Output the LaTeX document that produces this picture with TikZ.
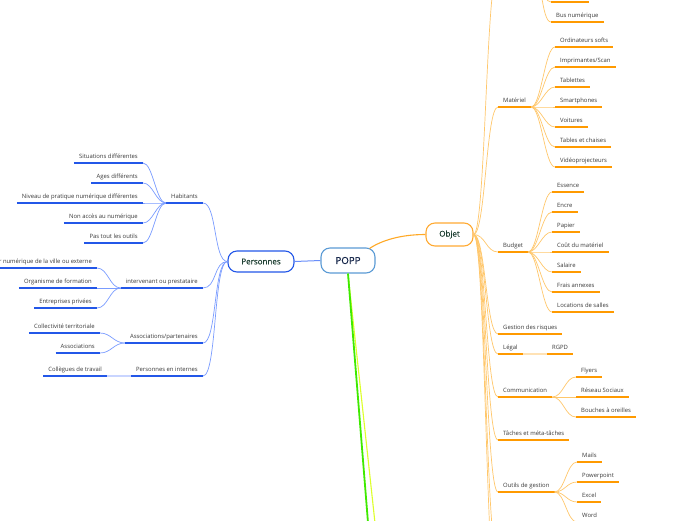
\documentclass[tikz,border=0pt]{standalone}
\usepackage{fontspec}
\setmainfont{Open Sans}
\newfontfamily\nodefont[FakeBold=0.6]{Open Sans}
\definecolor{bStrong}{HTML}{2357E8}
\definecolor{bLight}{HTML}{7A9CFF}
\definecolor{bPale}{HTML}{C9D5FF}
\definecolor{oStrong}{HTML}{FF9A00}
\definecolor{oLight}{HTML}{FFC76B}
\definecolor{oPale}{HTML}{FFE2B5}
\definecolor{oBorder}{HTML}{FFAA33}
\definecolor{txt}{HTML}{3A3A3A}
\definecolor{nodetxt}{HTML}{1F4033}
\definecolor{poppB}{HTML}{5B9BD5}
\definecolor{poppT}{HTML}{0E1F44}
\definecolor{gLine}{HTML}{3FEA00}
\definecolor{yLine}{HTML}{DDFF2A}
\tikzset{
 ulB/.style={draw=bStrong, line width=1.8pt},
 ulO/.style={draw=oStrong, line width=1.8pt},
 lbl/.style={font=\fontsize{5.9}{7}\selectfont, text=txt, inner xsep=5pt, inner ysep=0pt, text height=5pt, text depth=4.5pt},
 leafL/.style={lbl, anchor=south east, append after command={(\tikzlastnode.south west) edge[ulB] (\tikzlastnode.south east)}},
 leafR/.style={lbl, anchor=south west, append after command={(\tikzlastnode.south west) edge[ulO] (\tikzlastnode.south east)}},
 cB/.style={draw=bLight, line width=0.7pt},
 cO/.style={draw=oLight, line width=0.7pt},
 mainnode/.style={rounded corners=9pt, draw, line width=1.1pt, fill=white, text=nodetxt, font=\nodefont\fontsize{8}{9}\selectfont, inner sep=0pt},
}
\begin{document}
\begin{tikzpicture}[x=1pt,y=-1pt]
\useasboundingbox (0,0) rectangle (696,520);
\clip (0,0) rectangle (696,520);
\fill[white] (0,0) rectangle (696,520);

% main nodes
\node[mainnode, draw=poppB, text=poppT, minimum width=54pt, minimum height=25pt, font=\nodefont\fontsize{9.7}{11}\selectfont] (popp) at (348,260.5) {POPP};
\node[mainnode, draw=bStrong, minimum width=66pt, minimum height=21pt] (pers) at (261,261.5) {Personnes};
\node[mainnode, draw=oBorder, minimum width=47pt, minimum height=23pt] (obj) at (449.5,234.5) {Objet};

% off-canvas targets
\coordinate (gEnd) at (371,560);
\coordinate (yEnd) at (379,560);
\coordinate (topGrp) at (498,-30);
\coordinate (topFan) at (532,-30);
\coordinate (top1a) at (551,2);
\coordinate (top1b) at (589,2);
\coordinate (botGrpA) at (498,560);
\coordinate (botGrpB) at (498,610);

\draw[yLine, line width=1.1pt] (popp.south) -- (yEnd);
\draw[gLine, line width=1.8pt] (popp.south) -- (gEnd);
\draw[draw=bLight!80!bStrong, line width=1pt] (pers.east) -- (popp.west);
\draw[draw=oStrong!85, line width=1.1pt] ([shift={(-6,1)}]popp.north east) .. controls +(12,-8) and +(-25,0) .. (obj.west);

% Personnes branch
\node[leafL] (hab) at (203,203) {Habitants};
\node[leafL] (int) at (203,288) {intervenant ou prestataire};
\node[leafL] (asso) at (203,343) {Associations/partenaires};
\node[leafL] (pint) at (203,376) {Personnes en internes};
\foreach \g in {hab,int,asso,pint}
  \draw[cB] (pers.west) .. controls +(-14,0) and +(14,0) .. (\g.south east);

\node[leafL] (h1) at (143,163) {Situations différentes};
\node[leafL] (h2) at (143,183) {Ages différents};
\node[leafL] (h3) at (143,203) {Niveau de pratique numérique différentes};
\node[leafL] (h4) at (143,223) {Non accès au numérique};
\node[leafL] (h5) at (143,243) {Pas tout les outils};
\foreach \c in {h1,h2,h3,h4,h5}
  \draw[cB] (hab.south west) .. controls +(-10,0) and +(10,0) .. (\c.south east);

\node[leafL] (i1) at (97,268) {Conseiller numérique de la ville ou externe};
\node[leafL] (i2) at (97,288) {Organisme de formation};
\node[leafL] (i3) at (97,308) {Entreprises privées};
\foreach \c in {i1,i2,i3}
  \draw[cB] (int.south west) .. controls +(-11,0) and +(11,0) .. (\c.south east);

\node[leafL] (a1) at (100,333) {Collectivité territoriale};
\node[leafL] (a2) at (100,353) {Associations};
\foreach \c in {a1,a2}
  \draw[cB] (asso.south west) .. controls +(-11,0) and +(11,0) .. (\c.south east);

\node[leafL] (p1) at (107,376) {Collègues de travail};
\draw[draw=bPale, line width=1.6pt] (p1.south east) -- (pint.south west);

% Objet branch
\node[leafR] (mat) at (498,107) {Matériel};
\node[leafR] (bud) at (498,252) {Budget};
\node[leafR] (gest) at (498,334) {Gestion des risques};
\node[leafR] (legal) at (498,354) {Légal};
\node[leafR] (com) at (498,397) {Communication};
\node[leafR] (tach) at (498,440) {Tâches et méta-tâches};
\node[leafR] (outil) at (498,492) {Outils de gestion};
\foreach \g in {mat.south west,bud.south west,gest.south west,legal.south west,com.south west,tach.south west,outil.south west,topGrp,botGrpA,botGrpB}
  \draw[cO] (obj.east) .. controls +(12,0) and +(-12,0) .. (\g);

% top group (off canvas)
\draw[ulO] (top1a) -- (top1b);
\node[leafR] (bus) at (551,22) {Bus numérique};
\draw[cO] (topFan) .. controls +(10,0) and +(-10,0) .. (top1a);
\draw[cO] (topFan) .. controls +(10,0) and +(-10,0) .. (bus.south west);

\node[leafR] (m1) at (555,47) {Ordinateurs softs};
\node[leafR] (m2) at (555,67) {Imprimantes/Scan};
\node[leafR] (m3) at (555,87) {Tablettes};
\node[leafR] (m4) at (555,107) {Smartphones};
\node[leafR] (m5) at (555,127) {Voitures};
\node[leafR] (m6) at (555,147) {Tables et chaises};
\node[leafR] (m7) at (555,167) {Vidéoprojecteurs};
\foreach \c in {m1,m2,m3,m4,m5,m6,m7}
  \draw[cO] (mat.south east) .. controls +(10,0) and +(-10,0) .. (\c.south west);

\node[leafR] (b1) at (552,192) {Essence};
\node[leafR] (b2) at (552,212) {Encre};
\node[leafR] (b3) at (552,232) {Papier};
\node[leafR] (b4) at (552,252) {Coût du matériel};
\node[leafR] (b5) at (552,272) {Salaire};
\node[leafR] (b6) at (552,292) {Frais annexes};
\node[leafR] (b7) at (552,312) {Locations de salles};
\foreach \c in {b1,b2,b3,b4,b5,b6,b7}
  \draw[cO] (bud.south east) .. controls +(10,0) and +(-10,0) .. (\c.south west);

\node[leafR] (rgpd) at (547,354) {RGPD};
\draw[draw=oPale, line width=1.6pt] (legal.south east) -- (rgpd.south west);

\node[leafR] (c1) at (576,377) {Flyers};
\node[leafR] (c2) at (576,397) {Réseau Sociaux};
\node[leafR] (c3) at (576,417) {Bouches à oreilles};
\foreach \c in {c1,c2,c3}
  \draw[cO] (com.south east) .. controls +(11,0) and +(-11,0) .. (\c.south west);

\node[leafR] (o1) at (577,462) {Mails};
\node[leafR] (o2) at (577,482) {Powerpoint};
\node[leafR] (o3) at (577,502) {Excel};
\node[leafR] (o4) at (577,522) {Word};
\foreach \c in {o1,o2,o3,o4}
  \draw[cO] (outil.south east) .. controls +(10,0) and +(-10,0) .. (\c.south west);
\end{tikzpicture}
\end{document}
